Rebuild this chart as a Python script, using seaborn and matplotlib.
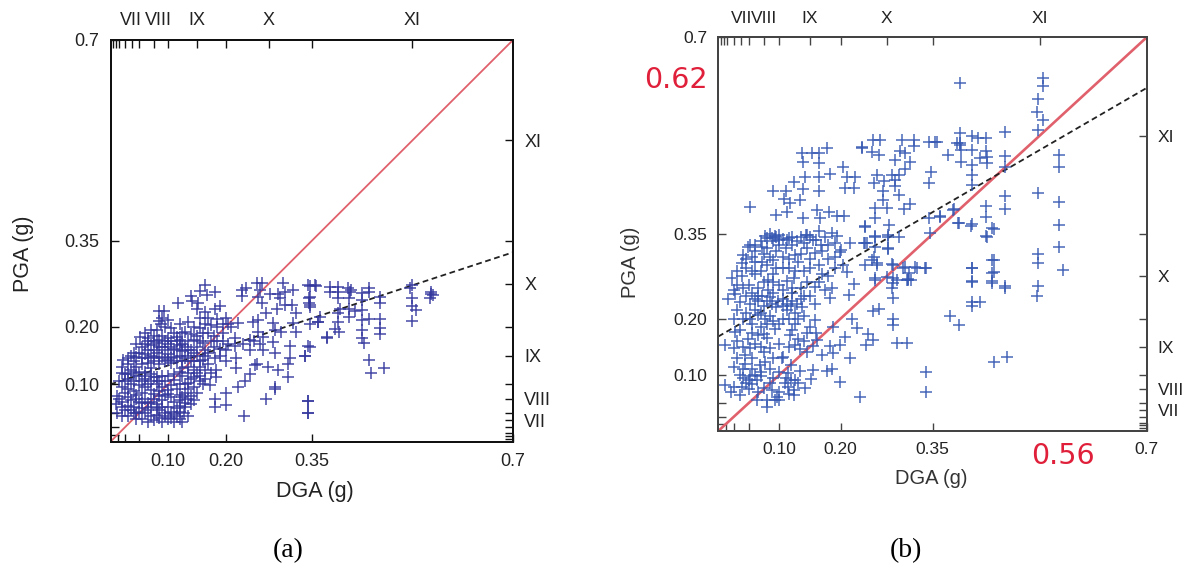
#!/usr/bin/env python3
import matplotlib
matplotlib.use("Agg")
import matplotlib.pyplot as plt
from matplotlib.transforms import ScaledTranslation
import pandas as pd
import seaborn as sns

W, H = 1200, 573

# (DGA, PGA) readings in g, panel (a)
a_low = [
    (.015,.105),(.03,.11),(.045,.115),(.06,.11),(.075,.112),(.02,.095),(.035,.1),(.05,.098),(.065,.1),(.08,.1),
    (.095,.105),(.11,.108),(.125,.115),(.14,.11),(.15,.12),(.13,.1),(.145,.095),(.155,.105),(.165,.11),(.012,.08),
    (.025,.085),(.04,.088),(.055,.085),(.07,.09),(.085,.088),(.1,.09),(.115,.092),(.13,.085),(.14,.08),(.15,.085),
    (.01,.065),(.02,.07),(.035,.072),(.05,.07),(.06,.075),(.075,.075),(.09,.072),(.105,.078),(.12,.072),(.13,.068),
    (.14,.065),(.012,.05),(.025,.055),(.04,.06),(.055,.058),(.07,.06),(.085,.055),(.1,.06),(.115,.058),(.128,.05),
    (.135,.045),(.02,.045),(.045,.04),(.055,.04),(.065,.035),(.075,.038),(.09,.035),(.1,.04),(.11,.035),(.12,.04),
    (.125,.035),(.03,.092),(.045,.082),(.06,.095),(.075,.083),(.09,.095),(.105,.098),(.12,.082),(.135,.092),(.03,.062),
    (.045,.05),(.06,.05),(.08,.047),(.095,.05),(.11,.048),(.12,.062),(.135,.075),(.065,.068),(.08,.066),(.095,.082),
]
a_mid = [
    (.085,.228),(.093,.228),(.117,.241),(.14,.254),(.141,.246),(.155,.263),(.164,.273),(.167,.256),(.181,.261),(.15,.232),
    (.152,.241),(.164,.226),(.181,.231),(.19,.236),(.17,.215),(.088,.205),(.095,.2),(.085,.21),(.105,.198),(.12,.205),
    (.135,.208),(.145,.2),(.155,.198),(.165,.205),(.175,.203),(.185,.2),(.195,.205),(.205,.205),(.21,.2),(.11,.19),
    (.115,.183),(.12,.178),(.13,.192),(.14,.188),(.15,.185),(.16,.19),(.17,.19),(.18,.185),(.051,.183),(.065,.18),
    (.075,.185),(.09,.185),(.1,.18),(.06,.17),(.07,.168),(.08,.172),(.09,.165),(.1,.17),(.11,.162),(.12,.168),
    (.13,.165),(.14,.16),(.15,.165),(.16,.172),(.17,.155),(.18,.165),(.19,.162),(.2,.16),(.05,.155),(.06,.152),
    (.07,.15),(.08,.155),(.09,.148),(.1,.153),(.11,.147),(.12,.15),(.13,.145),(.14,.14),(.15,.15),(.16,.142),
    (.03,.145),(.04,.14),(.022,.142),(.045,.13),(.055,.135),(.065,.138),(.075,.14),(.085,.136),(.105,.137),(.125,.128),
    (.135,.13),(.145,.125),(.155,.13),(.07,.128),(.06,.122),(.035,.125),(.025,.118),(.17,.135),(.175,.12),(.165,.125),
    (.095,.175),(.105,.165),(.115,.175),(.125,.158),(.135,.175),(.145,.178),(.085,.178),(.075,.16),(.065,.16),(.1,.143),
]
a_fill = [
    (.09,.215),(.1,.212),(.125,.19),(.155,.215),(.195,.19),(.2,.215),(.185,.213),(.08,.195),(.07,.195),(.06,.19),
    (.045,.17),(.055,.165),(.065,.175),(.075,.175),(.085,.165),(.095,.16),(.105,.175),(.115,.16),(.125,.17),(.135,.16),
    (.145,.155),(.155,.175),(.165,.16),(.175,.175),(.185,.175),(.04,.155),(.03,.135),(.035,.15),(.045,.148),(.055,.145),
    (.065,.145),(.075,.148),(.085,.145),(.095,.14),(.105,.145),(.115,.14),(.125,.14),(.135,.15),(.145,.14),(.155,.14),
    (.02,.13),(.165,.15),(.02,.12),(.03,.118),(.04,.122),(.05,.12),(.06,.115),(.07,.118),(.08,.113),(.09,.115),
    (.1,.115),(.11,.118),(.12,.122),(.135,.12),(.145,.112),(.155,.115),(.16,.1),(.025,.105),(.04,.105),(.055,.105),
    (.07,.105),(.085,.105),(.12,.1),(.135,.102),(.015,.075),(.03,.078),(.045,.075),(.055,.068),(.07,.07),(.085,.08),
    (.1,.083),(.11,.07),(.125,.078),(.145,.072),(.02,.06),(.035,.055),(.05,.052),(.065,.055),(.08,.058),(.09,.06),
    (.105,.052),(.12,.052),(.13,.06),(.03,.045),(.04,.05),(.07,.045),(.085,.042),(.105,.042),(.115,.045),(.095,.045),
]
a_sparse = [
    (.228,.264),(.236,.267),(.228,.254),(.254,.276),(.263,.276),(.26,.264),(.257,.253),(.263,.241),(.277,.258),(.292,.258),
    (.30,.276),(.303,.261),(.318,.264),(.295,.25),(.303,.238),(.315,.238),(.271,.224),(.289,.231),(.323,.224),(.344,.273),
    (.355,.273),(.347,.253),(.347,.238),(.222,.206),(.248,.209),(.257,.212),(.283,.206),(.318,.206),(.286,.195),(.297,.192),
    (.323,.192),(.257,.192),(.216,.18),(.266,.183),(.242,.177),(.26,.171),(.283,.174),(.312,.166),(.216,.166),(.242,.16),
    (.266,.16),(.286,.154),(.312,.145),(.338,.149),(.344,.166),(.219,.128),(.254,.136),(.274,.131),(.292,.125),(.309,.136),
    (.309,.113),(.222,.096),(.234,.105),(.242,.118),(.251,.134),(.181,.145),(.184,.125),(.173,.099),(.184,.113),(.219,.145),
    (.361,.209),(.376,.18),(.181,.074),(.181,.061),(.2,.085),(.2,.064),(.232,.044),(.27,.075),(.286,.096),(.286,.091),
    (.343,.071),(.343,.05),(.195,.175),(.205,.17),(.23,.17),(.25,.175),(.19,.15),(.2,.14),
]
a_right = [
    (.347,.272),(.357,.272),(.346,.25),(.346,.241),(.347,.234),(.381,.270),(.381,.261),(.395,.270),(.395,.261),(.395,.251),
    (.413,.267),(.419,.265),(.416,.261),(.415,.25),(.45,.267),(.45,.261),(.437,.259),(.437,.247),(.469,.253),(.469,.241),
    (.399,.232),(.396,.224),(.415,.232),(.425,.228),(.415,.217),(.437,.23),(.364,.217),(.36,.209),(.347,.205),(.396,.209),
    (.391,.197),(.398,.192),(.437,.212),(.449,.213),(.437,.195),(.437,.18),(.44,.172),(.469,.213),(.469,.199),(.469,.188),
    (.524,.273),(.521,.267),(.524,.25),(.524,.236),(.524,.21),(.532,.23),(.558,.257),(.561,.255),(.555,.25),(.558,.261),
    (.376,.183),(.347,.165),(.338,.15),(.45,.142),(.453,.119),(.475,.129),(.344,.071),(.344,.05),
]

# (DGA, PGA) readings in g, panel (b)
b_low = [
    (.011,.082),(.025,.079),(.038,.079),(.036,.064),(.052,.097),(.063,.091),(.074,.076),(.088,.073),(.079,.043),(.079,.055),
    (.096,.061),(.109,.085),(.114,.079),(.123,.064),(.142,.076),(.063,.055),(.092,.055),(.123,.073),(.044,.135),(.055,.129),
    (.025,.114),(.044,.12),(.068,.117),(.076,.123),(.085,.111),(.104,.129),(.118,.117),(.114,.103),(.134,.106),(.155,.109),
    (.177,.106),(.185,.111),(.152,.093),(.199,.087),(.232,.061),(.34,.105),(.34,.069),(.05,.09),(.06,.1),(.045,.085),
    (.055,.083),(.11,.095),(.118,.09),(.07,.098),(.035,.1),(.1,.07),
]
b_mid = [
    (.016,.235),(.027,.243),(.052,.226),(.065,.232),(.079,.232),(.098,.232),(.112,.226),(.128,.226),(.136,.22),(.025,.2),
    (.052,.2),(.065,.206),(.076,.2),(.112,.215),(.131,.2),(.158,.197),(.158,.226),(.036,.18),(.027,.176),(.065,.17),
    (.074,.173),(.049,.164),(.092,.182),(.117,.17),(.131,.164),(.161,.161),(.188,.185),(.218,.2),(.011,.153),(.025,.147),
    (.052,.147),(.085,.147),(.106,.132),(.125,.153),(.134,.145),(.155,.151),(.183,.151),(.199,.153),(.188,.139),(.207,.168),
    (.226,.183),(.245,.173),(.253,.161),(.241,.153),(.262,.217),(.252,.213),(.286,.2),(.286,.188),(.292,.156),(.308,.156),
    (.215,.129),(.06,.235),(.072,.24),(.088,.225),(.105,.235),(.12,.232),(.085,.238),(.06,.215),(.045,.21),(.07,.21),
    (.085,.205),(.125,.21),(.14,.205),(.115,.2),(.07,.185),(.055,.175),(.08,.165),(.1,.19),(.12,.18),(.145,.175),
]
b_high = [
    (.079,.343),(.092,.346),(.112,.34),(.144,.349),(.185,.352),(.18,.331),(.215,.334),(.238,.334),(.256,.346),(.278,.349),
    (.278,.325),(.052,.331),(.041,.313),(.038,.298),(.071,.301),(.09,.304),(.126,.313),(.158,.316),(.199,.319),(.022,.272),
    (.038,.275),(.055,.284),(.082,.269),(.082,.251),(.112,.266),(.123,.272),(.158,.256),(.18,.275),(.185,.254),(.183,.236),
    (.204,.295),(.21,.283),(.221,.262),(.213,.242),(.251,.304),(.259,.295),(.286,.295),(.256,.272),(.286,.272),(.308,.269),
    (.284,.254),(.286,.236),(.311,.281),(.324,.29),(.34,.29),(.302,.29),(.087,.343),(.09,.337),(.076,.346),(.115,.343),
    (.145,.349),(.164,.355),(.194,.346),(.06,.331),(.049,.328),(.071,.328),(.128,.337),(.167,.331),(.2,.322),(.243,.334),
    (.095,.32),(.11,.325),(.13,.3),(.145,.325),(.105,.29),(.07,.285),(.09,.28),(.14,.285),(.165,.295),(.18,.305),
    (.05,.26),(.065,.255),(.1,.26),(.135,.255),(.06,.3),(.095,.345),(.1,.34),(.15,.345),(.31,.27),(.315,.268),
]
b_fill = [
    (.07,.338),(.085,.35),(.1,.348),(.105,.342),(.12,.345),(.135,.345),(.155,.34),(.175,.345),(.06,.32),(.08,.325),
    (.1,.33),(.12,.33),(.14,.335),(.16,.34),(.19,.335),(.045,.305),(.055,.31),(.075,.315),(.085,.31),(.105,.31),
    (.115,.305),(.135,.315),(.15,.305),(.17,.32),(.19,.31),(.03,.285),(.045,.29),(.06,.28),(.08,.295),(.095,.29),
    (.115,.29),(.125,.285),(.15,.29),(.17,.28),(.19,.29),(.03,.26),(.04,.255),(.075,.265),(.09,.265),(.105,.25),
    (.12,.255),(.145,.265),(.165,.265),(.175,.25),(.025,.25),(.035,.23),(.045,.24),(.055,.245),(.065,.24),(.09,.245),
    (.12,.245),(.14,.24),(.15,.24),(.095,.22),(.075,.222),(.105,.222),(.118,.222),(.135,.235),(.03,.215),(.04,.2),
    (.055,.19),(.08,.19),(.09,.195),(.105,.2),(.125,.19),(.15,.185),(.14,.16),(.16,.175),(.03,.16),(.04,.15),
    (.06,.155),(.07,.15),(.1,.155),(.115,.15),(.145,.14),(.17,.135),(.09,.13),(.075,.14),(.03,.13),(.04,.11),
    (.055,.11),(.07,.105),(.09,.095),(.1,.105),(.125,.09),(.13,.085),(.115,.065),(.1,.055),(.085,.085),(.065,.07),
    (.05,.075),(.04,.095),(.02,.07),
]
b_top = [
    (.052,.399),(.09,.427),(.111,.427),(.123,.443),(.139,.43),(.136,.494),(.138,.479),(.153,.495),(.164,.495),(.177,.503),
    (.165,.476),(.141,.452),(.165,.452),(.183,.457),(.165,.427),(.107,.412),(.117,.405),(.134,.41),(.094,.384),(.112,.39),
    (.161,.393),(.139,.378),(.166,.378),(.181,.389),(.194,.382),(.205,.382),(.204,.47),(.21,.452),(.224,.452),(.207,.432),
    (.221,.432),(.234,.503),(.24,.365),(.252,.517),(.264,.517),(.234,.505),(.3,.517),(.319,.517),(.319,.506),(.344,.513),
    (.357,.513),(.251,.496),(.262,.491),(.297,.497),(.305,.494),(.289,.482),(.313,.479),(.305,.465),(.395,.53),(.395,.512),
    (.347,.461),(.345,.441),(.259,.455),(.254,.441),(.27,.444),(.284,.455),(.289,.446),(.295,.455),(.289,.435),(.296,.42),
    (.269,.426),(.269,.411),(.256,.396),(.275,.396),(.256,.378),(.303,.394),(.313,.404),(.239,.363),(.279,.366),(.278,.345),
    (.295,.345),(.256,.345),(.239,.334),(.256,.328),(.278,.323),(.254,.31),(.239,.295),(.259,.298),(.284,.297),(.256,.269),
    (.275,.273),(.286,.263),(.305,.291),(.322,.291),(.338,.289),(.292,.269),(.31,.269),(.344,.378),(.363,.381),(.385,.394),
    (.393,.369),(.413,.365),(.45,.36),(.438,.346),(.346,.352),(.414,.289),(.414,.265),(.45,.304),(.45,.282),(.448,.263),
    (.469,.257),
]
b_right = [
    (.395,.619),(.53,.627),(.53,.614),(.522,.59),(.52,.567),(.53,.553),(.522,.536),(.469,.532),(.354,.513),(.39,.512),
    (.395,.509),(.397,.5),(.414,.525),(.425,.521),(.437,.521),(.414,.5),(.437,.497),(.439,.488),(.376,.491),(.397,.478),
    (.414,.473),(.428,.485),(.439,.476),(.414,.456),(.414,.438),(.469,.489),(.469,.47),(.556,.491),(.556,.47),(.522,.423),
    (.556,.407),(.469,.417),(.469,.394),(.437,.4),(.437,.381),(.384,.393),(.363,.382),(.392,.369),(.414,.368),(.448,.361),
    (.439,.345),(.556,.367),(.556,.328),(.522,.315),(.522,.299),(.563,.287),(.448,.304),(.448,.281),(.448,.266),(.414,.289),
    (.414,.266),(.469,.255),(.522,.258),(.52,.24),(.414,.23),(.427,.229),(.414,.222),(.379,.205),(.394,.189),(.451,.123),
    (.472,.132),
]

# Reference line and regression lines
line_x = [0.0, 0.7]
unity_y = [0.0, 0.7]
fit_a_y = [0.10, 0.33]
fit_b_y = [0.168, 0.61]

major_ticks = [0.0125, 0.025, 0.05, 0.10, 0.20, 0.35, 0.7]
major_labels = ["", "", "", "0.10", "0.20", "0.35", "0.7"]
intensity_ticks = [0.005, 0.01, 0.015, 0.025, 0.0375, 0.05, 0.075, 0.10, 0.15, 0.20, 0.275, 0.35, 0.525]
intensity_labels = ["", "", "", "", "VII", "", "VIII", "", "IX", "", "X", "", "XI"]


def panel(fig, box, groups, fit_y, color, axis_color, fs, red_lw):
    left, right, top, bottom = box
    ax = fig.add_axes([left / W, 1 - bottom / H, (right - left) / W, (bottom - top) / H])
    df = pd.DataFrame([p for g in groups for p in g], columns=["dga", "pga"])
    sns.lineplot(x=line_x, y=unity_y, color="#e0606c", linewidth=red_lw, ax=ax, zorder=2)
    sns.lineplot(x=line_x, y=fit_y, color="#222222", linewidth=1.3, linestyle=(0, (3.2, 2)), ax=ax, zorder=2)
    sns.scatterplot(data=df, x="dga", y="pga", marker="+", s=68, linewidth=1.1,
                    color=color, alpha=0.9, ax=ax, zorder=3)
    ax.set_xlim(0, 0.7)
    ax.set_ylim(0, 0.7)
    ax.set_xticks(major_ticks, major_labels)
    ax.set_yticks(major_ticks, major_labels)
    ax.set_xlabel("")
    ax.set_ylabel("")
    ax.tick_params(direction="in", length=6, width=1, labelsize=fs, pad=8,
                   colors=axis_color, labelcolor="#222222")

    # intensity scale on the opposite axes
    top_ax = ax.twiny()
    top_ax.set_xlim(0, 0.7)
    top_ax.set_xticks(intensity_ticks, intensity_labels)
    right_ax = ax.twinx()
    right_ax.set_ylim(0, 0.7)
    right_ax.set_yticks(intensity_ticks, intensity_labels)
    for extra in (top_ax, right_ax):
        extra.tick_params(direction="in", length=6, width=1, labelsize=fs, pad=8,
                          colors=axis_color, labelcolor="#222222")
    for a in (ax, top_ax, right_ax):
        for s in a.spines.values():
            s.set_color(axis_color)
            s.set_linewidth(1.4)
    return top_ax


def main():
    sns.set_theme(style="ticks")
    plt.rcParams["font.family"] = ["Liberation Sans", "DejaVu Sans"]
    fig = plt.figure(figsize=(W / 100, H / 100), dpi=100)

    top_a = panel(fig, (110.5, 513, 40, 441.7), [a_low, a_mid, a_fill, a_sparse, a_right], fit_a_y,
                  "#33379c", "#111111", 13, 1.3)
    panel(fig, (718.3, 1146.7, 37.3, 431), [b_low, b_mid, b_fill, b_high, b_top, b_right], fit_b_y,
          "#3658b2", "#444444", 12.5, 1.9)

    # VII and VIII sit side by side in panel (a), nudge them apart
    for label in top_a.get_xticklabels():
        shift = {"VII": -1, "VIII": 5}.get(label.get_text())
        if shift:
            label.set_transform(label.get_transform() + ScaledTranslation(shift / 100, 0, fig.dpi_scale_trans))

    def put(px, py, s, **kw):
        fig.text(px / W, 1 - py / H, s, ha="center", va="center", **kw)

    put(315, 492, "DGA (g)", fontsize=15.5, color="#222222")
    put(24, 254, "PGA (g)", fontsize=15.5, color="#222222", rotation=90)
    put(931, 479, "DGA (g)", fontsize=14.5, color="#333333")
    put(631, 262, "PGA (g)", fontsize=14.5, color="#333333", rotation=90)
    put(676, 80, "0.62", fontsize=20.5, color="#e0203a", family="DejaVu Sans")
    put(1063, 456, "0.56", fontsize=20.5, color="#e0203a", family="DejaVu Sans")
    put(288, 551, "(a)", fontsize=20, color="black", family="Liberation Serif")
    put(906, 551, "(b)", fontsize=20, color="black", family="Liberation Serif")

    fig.savefig("out.png", dpi=100, facecolor="white")
    plt.close(fig)


if __name__ == "__main__":
    main()
